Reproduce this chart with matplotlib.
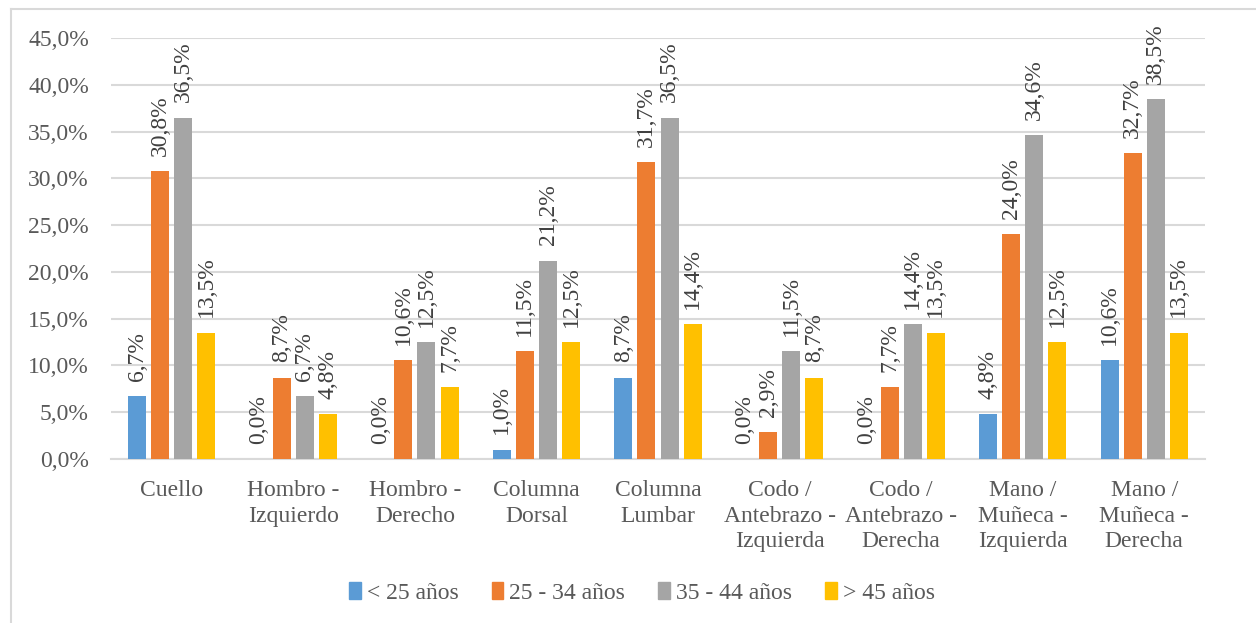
import matplotlib
matplotlib.use("Agg")
import matplotlib.pyplot as plt
import numpy as np
from matplotlib.lines import Line2D

plt.rcParams['font.family'] = ['Liberation Serif', 'DejaVu Serif']

categorias = ["Cuello", "Hombro -\nIzquierdo", "Hombro -\nDerecho", "Columna\nDorsal",
              "Columna\nLumbar", "Codo /\nAntebrazo -\nIzquierda", "Codo /\nAntebrazo -\nDerecha",
              "Mano /\nMuñeca -\nIzquierda", "Mano /\nMuñeca -\nDerecha"]
series = ["< 25 años", "25 - 34 años", "35 - 44 años", "> 45 años"]
menor_25 = [6.7, 0.0, 0.0, 1.0, 8.7, 0.0, 0.0, 4.8, 10.6]
de_25_34 = [30.8, 8.7, 10.6, 11.5, 31.7, 2.9, 7.7, 24.0, 32.7]
de_35_44 = [36.5, 6.7, 12.5, 21.2, 36.5, 11.5, 14.4, 34.6, 38.5]
mayor_45 = [13.5, 4.8, 7.7, 12.5, 14.4, 8.7, 13.5, 12.5, 13.5]
colores = ["#5B9BD5", "#ED7D31", "#A5A5A5", "#FFC000"]

fs = 17
fig = plt.figure(figsize=(12.56, 6.23), dpi=100)
ax = fig.add_axes([0.0884, 0.2632, 0.871, 0.6758])

x = np.arange(len(categorias))
paso = 0.19
ancho = 0.148
texto_gris = "#595959"

for i, (vals, col) in enumerate(zip([menor_25, de_25_34, de_35_44, mayor_45], colores)):
    pos = x + (i - 1.5) * paso
    ax.bar(pos, vals, width=ancho, color=col, zorder=3)
    for p, v in zip(pos, vals):
        ax.annotate(f"{v:.1f}%".replace(".", ","), (p, v), xytext=(0, 11),
                    textcoords="offset points", rotation=90, ha="center", va="bottom",
                    fontsize=fs, color="#404040")

ax.set_xlim(-0.5, len(categorias) - 0.5)
ax.set_ylim(0, 45)
ax.set_yticks(np.arange(0, 46, 5))
ax.set_yticklabels([f"{t:.1f}%".replace(".", ",") for t in np.arange(0, 46, 5)])
ax.set_xticks(x)
ax.set_xticklabels(categorias, linespacing=1.3)
ax.tick_params(axis="both", length=0, labelsize=fs, labelcolor=texto_gris)
ax.tick_params(axis="x", pad=15)
ax.tick_params(axis="y", pad=16)
ax.grid(axis="y", color="#D9D9D9", linewidth=1.5, zorder=0)
for s in ["top", "right", "left"]:
    ax.spines[s].set_visible(False)
ax.spines["bottom"].set_color("#D9D9D9")
ax.spines["bottom"].set_linewidth(1.5)

handles = [plt.Rectangle((0, 0), 1, 1, color=c) for c in colores]
fig.legend(handles, series, loc="center", bbox_to_anchor=(0.511, 0.048), ncol=4, frameon=False,
           fontsize=fs, labelcolor=texto_gris, handlelength=0.5, handleheight=0.7,
           handletextpad=0.25, columnspacing=1.4)

# borde del gráfico
fig.add_artist(Line2D([11 / 1256, 11 / 1256], [0, 1 - 9 / 623], color="#D9D9D9", linewidth=1.5))
fig.add_artist(Line2D([11 / 1256, 1], [1 - 9 / 623, 1 - 9 / 623], color="#D9D9D9", linewidth=1.5))

fig.savefig("out.png", dpi=100)
